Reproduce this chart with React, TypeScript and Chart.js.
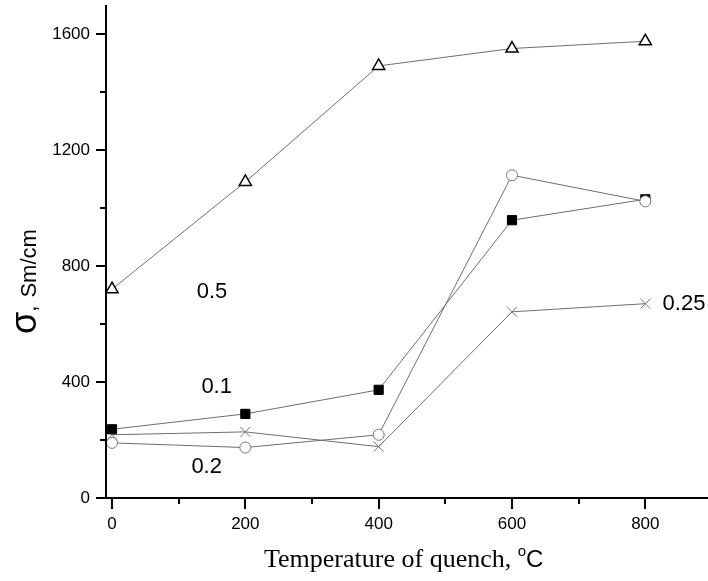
import React, { useEffect, useRef } from 'react';
import { Chart, registerables } from 'chart.js';

Chart.register(...registerables);

// ---- data ----
const TEMPERATURES = [0, 200, 400, 600, 800];
const SERIES_05 = [720, 1090, 1490, 1550, 1575];
const SERIES_01 = [237, 290, 373, 958, 1030];
const SERIES_02 = [190, 174, 218, 1113, 1023];
const SERIES_025 = [218, 228, 177, 642, 670];

const X_TICKS = [0, 100, 200, 300, 400, 500, 600, 700, 800];
const X_LABELED = [0, 200, 400, 600, 800];
const Y_TICKS = [0, 200, 400, 600, 800, 1000, 1200, 1400, 1600];
const Y_LABELED = [0, 400, 800, 1200, 1600];

const SERIES_LABELS = ['0.5', '0.1', '0.2', '0.25'];
const LABEL_X = [150, 157, 142, 858];
const LABEL_Y = [710, 383, 107, 669];

const X_TITLE = 'Temperature of quench, ';
const Y_TITLE_UNIT = 'Sm/cm';

const toPoints = (ys: number[]) => TEMPERATURES.map((x, i) => ({ x, y: ys[i] }));

const LINE = '#6e6e6e';

const decorPlugin = {
  id: 'decor',
  afterDraw(chart: any) {
    const { ctx, chartArea, scales } = chart;
    const xs = scales.x;
    const ys = scales.y;
    ctx.save();
    ctx.strokeStyle = '#000';
    ctx.lineWidth = 2;
    // axes
    ctx.beginPath();
    ctx.moveTo(chartArea.left, chartArea.top);
    ctx.lineTo(chartArea.left, chartArea.bottom);
    ctx.lineTo(chartArea.right, chartArea.bottom);
    ctx.stroke();
    // ticks
    ctx.beginPath();
    X_TICKS.forEach((v) => {
      const px = Math.round(xs.getPixelForValue(v));
      const len = X_LABELED.includes(v) ? 11 : 6;
      ctx.moveTo(px, chartArea.bottom);
      ctx.lineTo(px, chartArea.bottom + len);
    });
    Y_TICKS.forEach((v) => {
      const py = Math.round(ys.getPixelForValue(v));
      const len = Y_LABELED.includes(v) ? 10 : 6;
      ctx.moveTo(chartArea.left, py);
      ctx.lineTo(chartArea.left - len, py);
    });
    ctx.stroke();

    // series annotations
    ctx.fillStyle = '#000';
    ctx.font = '22px "Liberation Sans", Arial, sans-serif';
    ctx.textAlign = 'center';
    ctx.textBaseline = 'middle';
    SERIES_LABELS.forEach((t, i) => {
      ctx.fillText(t, xs.getPixelForValue(LABEL_X[i]), ys.getPixelForValue(LABEL_Y[i]));
    });

    // x title
    ctx.textAlign = 'left';
    ctx.textBaseline = 'alphabetic';
    const baseY = 567;
    let x = 264;
    ctx.font = '26px "Liberation Serif", "Times New Roman", serif';
    ctx.fillText(X_TITLE, x, baseY);
    x += ctx.measureText(X_TITLE).width;
    ctx.font = '15px "Liberation Sans", Arial, sans-serif';
    ctx.fillText('o', x, baseY - 11);
    x += ctx.measureText('o').width;
    ctx.font = '24px "Liberation Sans", Arial, sans-serif';
    ctx.fillText('C', x, baseY);

    // y title (rotated)
    ctx.translate(36, 334);
    ctx.rotate(-Math.PI / 2);
    ctx.font = '36px "Liberation Sans", Arial, sans-serif';
    ctx.fillText('σ', 0, 0);
    let off = ctx.measureText('σ').width;
    ctx.font = '22px "Liberation Sans", Arial, sans-serif';
    ctx.fillText(',', off, 0);
    off += ctx.measureText(', ').width + 2;
    ctx.fillText(Y_TITLE_UNIT, off, 0);
    ctx.restore();
  },
};

export default function App() {
  const ref = useRef<HTMLCanvasElement | null>(null);
  useEffect(() => {
    if (!ref.current) return;
    const base = { borderColor: LINE, borderWidth: 1, showLine: true, tension: 0, clip: false };
    const chart = new Chart(ref.current, {
      type: 'scatter',
      data: {
        datasets: [
          {
            ...base,
            label: SERIES_LABELS[2],
            data: toPoints(SERIES_02),
            pointStyle: 'circle',
            pointRadius: 5.5,
            pointBorderColor: '#777',
            pointBackgroundColor: '#fff',
            pointBorderWidth: 1,
          },
          {
            ...base,
            label: SERIES_LABELS[1],
            data: toPoints(SERIES_01),
            pointStyle: 'rect',
            pointRadius: 6.5,
            pointBorderColor: '#000',
            pointBackgroundColor: '#000',
            pointBorderWidth: 1,
          },
          {
            ...base,
            label: SERIES_LABELS[3],
            data: toPoints(SERIES_025),
            pointStyle: 'crossRot',
            pointRadius: 7,
            pointBorderColor: '#777',
            pointBackgroundColor: '#fff',
            pointBorderWidth: 1,
          },
          {
            ...base,
            label: SERIES_LABELS[0],
            data: toPoints(SERIES_05),
            pointStyle: 'triangle',
            pointRadius: 7,
            pointBorderColor: '#000',
            pointBackgroundColor: '#fff',
            pointBorderWidth: 1.5,
          },
        ],
      } as any,
      options: {
        animation: false,
        responsive: false,
        devicePixelRatio: 1,
        layout: { autoPadding: false, padding: { top: 5, right: 0, left: 0, bottom: 0 } },
        plugins: { legend: { display: false }, tooltip: { enabled: false } },
        scales: {
          x: {
            type: 'linear',
            min: -9,
            max: 894,
            grid: { display: false, drawTicks: false },
            border: { display: false },
            afterBuildTicks: (s: any) => {
              s.ticks = X_TICKS.map((v) => ({ value: v }));
            },
            afterFit: (s: any) => {
              s.height = 83;
              s.paddingLeft = 0;
              s.paddingRight = 0;
              s.paddingTop = 0;
              s.paddingBottom = 0;
            },
            ticks: {
              autoSkip: false,
              maxRotation: 0,
              padding: 16,
              color: '#000',
              font: { family: '"Liberation Sans", Arial, sans-serif', size: 17 },
              callback: (v: any) => (X_LABELED.includes(Number(v)) ? String(v) : ''),
            },
          },
          y: {
            type: 'linear',
            min: 0,
            max: 1700,
            grid: { display: false, drawTicks: false },
            border: { display: false },
            afterBuildTicks: (s: any) => {
              s.ticks = Y_TICKS.map((v) => ({ value: v }));
            },
            afterFit: (s: any) => {
              s.width = 106;
              s.paddingLeft = 0;
              s.paddingRight = 0;
              s.paddingTop = 0;
              s.paddingBottom = 0;
            },
            ticks: {
              autoSkip: false,
              padding: 16,
              color: '#000',
              font: { family: '"Liberation Sans", Arial, sans-serif', size: 17 },
              callback: (v: any) => (Y_LABELED.includes(Number(v)) ? String(v) : ''),
            },
          },
        },
      } as any,
      plugins: [decorPlugin],
    });
    return () => chart.destroy();
  }, []);
  return (
    <div style={{ position: 'fixed', left: 0, top: 0, width: 708, height: 581, background: '#fff' }}>
      <canvas ref={ref} width={708} height={581} style={{ width: 708, height: 581 }} />
    </div>
  );
}
